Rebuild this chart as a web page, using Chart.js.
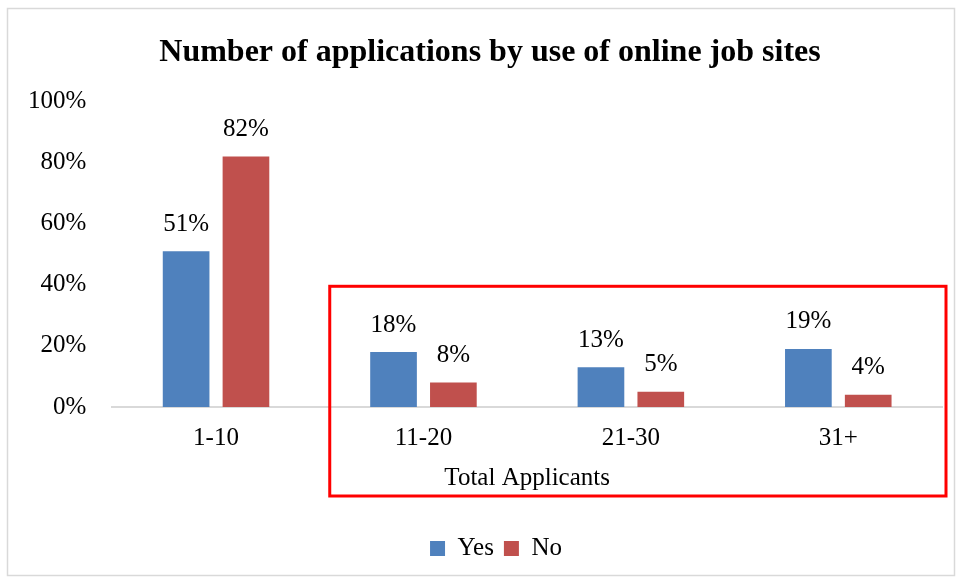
<!DOCTYPE html>
<html>
<head>
<meta charset="utf-8">
<script src="https://cdn.jsdelivr.net/npm/chart.js@4.4.1/dist/chart.umd.min.js"></script>
<style>
  html, body { margin: 0; padding: 0; background: #fff; }
  #wrap { width: 958px; height: 579px; position: relative; }
</style>
</head>
<body>
<div id="wrap"><canvas id="chart" width="958" height="579"></canvas></div>
<script>
const categories = ["1-10", "11-20", "21-30", "31+"];
const yesValues = [51, 18, 13, 19];
const noValues = [82, 8, 5, 4];
const seriesNames = ["Yes", "No"];

const SERIF = "'Liberation Serif', 'Times New Roman', serif";
const FS = 25;

// white background + light frame round the whole chart
const frame = {
  id: "frame",
  beforeDraw(chart) {
    const { ctx, width, height } = chart;
    ctx.save();
    ctx.fillStyle = "#fff";
    ctx.fillRect(0, 0, width, height);
    ctx.strokeStyle = "#d9d9d9";
    ctx.lineWidth = 1.5;
    ctx.strokeRect(7.5, 8.5, width - 11, height - 12);
    ctx.restore();
  },
};

// title and legend sit a bit right of the canvas centre in the original
const nudge = {
  id: "nudge",
  afterLayout(chart) {
    chart.titleBlock.left += 36;
    chart.legend.left += 48;
  },
};

// value labels above bars
const barLabels = {
  id: "barLabels",
  afterDatasetsDraw(chart) {
    const { ctx } = chart;
    ctx.save();
    ctx.font = FS + "px " + SERIF;
    ctx.fillStyle = "#000";
    ctx.textAlign = "center";
    ctx.textBaseline = "middle";
    chart.data.datasets.forEach((ds, i) => {
      chart.getDatasetMeta(i).data.forEach((bar, j) => {
        ctx.fillText(ds.data[j] + "%", bar.x, bar.y - 27);
      });
    });
    ctx.restore();
  },
};

// red highlight box round categories 2..4 and the axis title
const highlight = {
  id: "highlight",
  afterDraw(chart) {
    const { ctx } = chart;
    const x = chart.scales.x, y = chart.scales.y;
    const half = (x.getPixelForValue(1) - x.getPixelForValue(0)) / 2;
    const left = x.getPixelForValue(1) - half + 10;
    const right = chart.chartArea.right + 4;
    const top = y.getPixelForValue(39.5);
    const bottom = chart.legend.top - 30;
    ctx.save();
    ctx.strokeStyle = "#ff0000";
    ctx.lineWidth = 3;
    ctx.strokeRect(left, top, right - left, bottom - top);
    ctx.restore();
  },
};

new Chart(document.getElementById("chart"), {
  type: "bar",
  data: {
    labels: categories,
    datasets: [
      { label: seriesNames[0], data: yesValues, backgroundColor: "#4f81bd" },
      { label: seriesNames[1], data: noValues, backgroundColor: "#c0504d" },
    ],
  },
  options: {
    responsive: false,
    animation: false,
    categoryPercentage: 0.577,
    barPercentage: 0.78,
    layout: { padding: { left: 2, right: 16, top: 14, bottom: 8 } },
    scales: {
      x: {
        grid: { display: false, drawTicks: false },
        border: { color: "#d9d9d9", width: 2 },
        ticks: { color: "#000", font: { family: SERIF, size: FS }, padding: 16 },
        title: {
          display: true,
          text: "Total Applicants",
          color: "#000",
          font: { family: SERIF, size: FS },
          padding: { top: -6, bottom: 33 },
        },
      },
      y: {
        min: 0,
        max: 100,
        grid: { display: false, drawTicks: false },
        border: { display: false },
        ticks: {
          stepSize: 20,
          color: "#000",
          font: { family: SERIF, size: FS },
          padding: 26,
          callback: (v) => v + "%",
        },
      },
    },
    plugins: {
      title: {
        display: true,
        text: "Number of applications by use of online job sites",
        color: "#000",
        font: { family: SERIF, size: 32, weight: "bold" },
        padding: { top: 20, bottom: 29 },
      },
      legend: {
        position: "bottom",
        labels: {
          color: "#000",
          font: { family: SERIF, size: FS },
          boxWidth: 15,
          boxHeight: 15,
          padding: 10,
        },
      },
      tooltip: { enabled: false },
    },
  },
  plugins: [frame, nudge, barLabels, highlight],
});
</script>
</body>
</html>
